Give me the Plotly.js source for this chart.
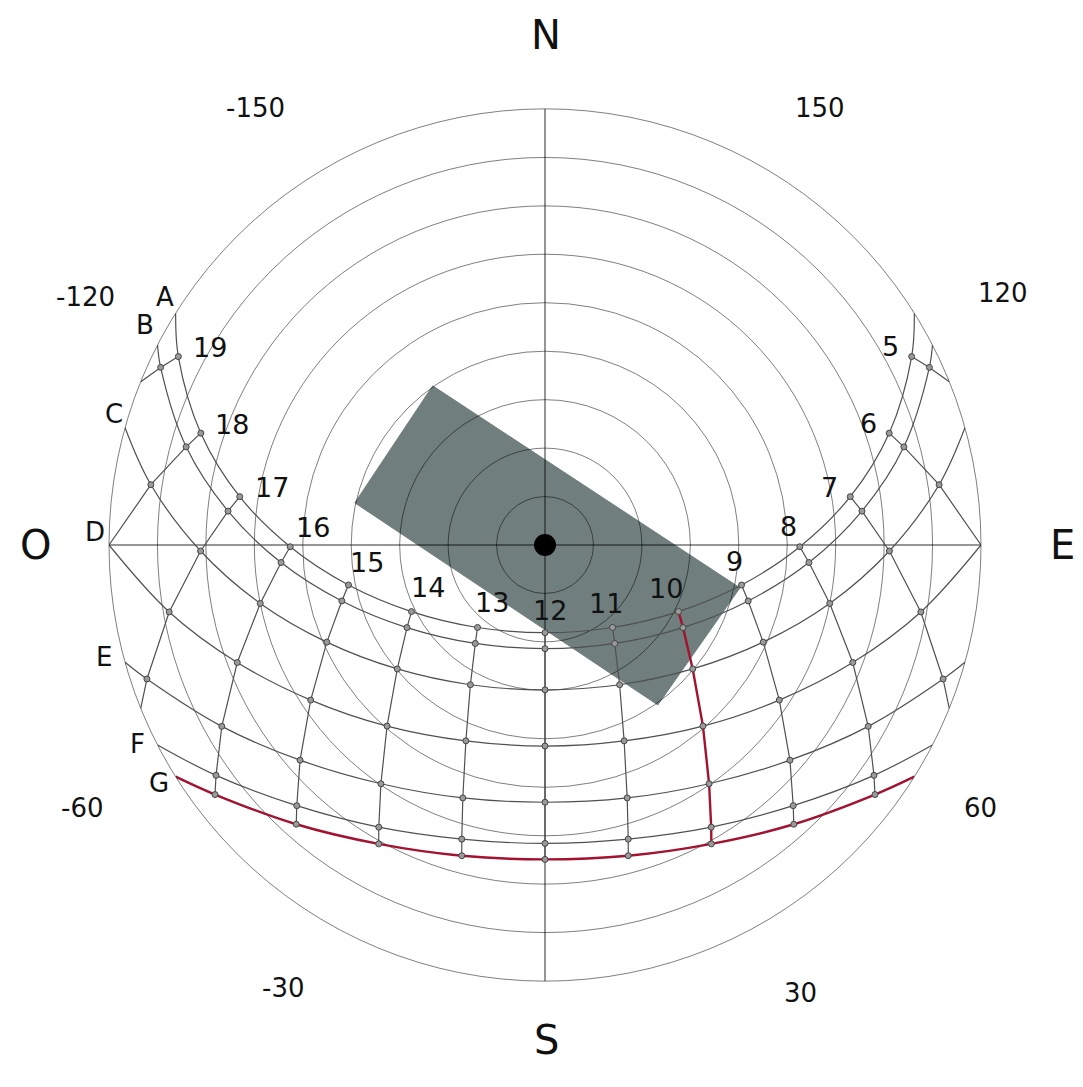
<!DOCTYPE html>
<html>
<head>
<meta charset="utf-8">
<script src="https://cdn.plot.ly/plotly-3.0.1.min.js"></script>
<style>
html,body{margin:0;padding:0;background:#ffffff;}
#chart{width:1083px;height:1087px;}
</style>
</head>
<body>
<div id="chart"></div>
<script>
// ---------------- DATA ----------------
// True solar hours
const hours = [5,6,7,8,9,10,11,12,13,14,15,16,17,18,19];
// Sun-path curves A..G : azimuth measured from South (East +, West -), elevation in degrees
const azA = [117.2,108.0,99.0,89.6,78.5,63.5,39.3,0,-39.3,-63.5,-78.5,-89.6,-99.0,-108.0,-117.2];
const elA = [4.9,15.3,26.2,37.4,48.6,59.2,68.0,71.9,68.0,59.2,48.6,37.4,26.2,15.3,4.9];
const azB = [114.8,105.3,96.1,86.2,74.6,59.1,35.3,0,-35.3,-59.1,-74.6,-86.2,-96.1,-105.3,-114.8];
const elB = [2.6,13.2,24.2,35.4,46.5,56.8,65.1,68.6,65.1,56.8,46.5,35.4,24.2,13.2,2.6];
const azC = [null,98.7,89.0,78.4,66.0,50.0,28.1,0,-28.1,-50.0,-66.0,-78.4,-89.0,-98.7,null];
const elC = [null,7.7,18.9,30.0,40.7,50.2,57.3,60.1,57.3,50.2,40.7,30.0,18.9,7.7,null];
const azD = [null,90,79.9,69.1,56.5,41.1,22.0,0,-22.0,-41.1,-56.5,-69.1,-79.9,-90,null];
const elD = [null,0,11.2,22.0,32.0,40.4,46.4,48.5,46.4,40.4,32.0,22.0,11.2,0,null];
const azE = [null,null,71.4,60.7,48.7,34.5,18.0,0,-18.0,-34.5,-48.7,-60.7,-71.4,null,null];
const elE = [null,null,3.3,13.5,22.7,30.2,35.1,36.9,35.1,30.2,22.7,13.5,3.3,null,null];
const azF = [null,null,null,55.0,43.6,30.5,15.8,0,-15.8,-30.5,-43.6,-55.0,null,null,null];
const elF = [null,null,null,7.1,15.7,22.4,26.9,28.4,26.9,22.4,15.7,7.1,null,null,null];
const azG = [null,null,null,52.9,41.7,29.1,15.0,0,-15.0,-29.1,-41.7,-52.9,null,null,null];
const elG = [null,null,null,4.6,12.8,19.4,23.6,25.1,23.6,19.4,12.8,4.6,null,null,null];
const curveNames = ['A','B','C','D','E','F','G'];
// azimuth where each curve meets the horizon (sunrise; sunset is the negative)
const horizonAz = [122.1,117.3,105.6,90,74.4,62.7,57.9];
// azimuth where an hour line meets the horizon
const hourHorizonHours = [5,7,17,19];
const hourHorizonAz = [112.0,68.0,-68.0,-112.0];
// Shading obstacle (corners)
const obstacleAz = [-144.8,-102.5,35.2,77.6];
const obstacleEl = [49.8,49.8,49.6,48.8];
// highlighted series
const highlightCurve = 'G';
const highlightHour = 10;
// labels
const cardinalLabels = ['N','E','S','O'];
const azimuthLabels = ['150','120','60','30','-30','-60','-120','-150'];

// ---------------- LAYOUT CONSTANTS ----------------
const W = 1083, H = 1087;
const FONT = 'DejaVu Sans, Verdana, sans-serif';
const GRAY = '#505050';
const RED = '#a3122f';
const cardinalPos = [[546,35],[1062,545],[546,1040],[35,545]];
const azimuthPos = [[820,108],[1003,293],[980,808],[800,993],[283,988],[82,808],[85,297],[255,108]];
const hourPos = [[890,346],[868,423],[829,487],[788,526],[734,561],[666,588],[606,603],[550,610],[492,602],[428,587],[367,562],[313,527],[272,487],[232,424],[210,347]];
const curveLabelPos = [[165,297],[145,325],[114,414],[95,532],[104,657],[137,744],[159,783]];

const curves = [
  {az:azA, el:elA},{az:azB, el:elB},{az:azC, el:elC},{az:azD, el:elD},
  {az:azE, el:elE},{az:azF, el:elF},{az:azG, el:elG}
];
const zen = el => 90 - el;

const traces = [];
// obstacle on bottom subplot
traces.push({
  type:'scatterpolar', subplot:'polar',
  theta: obstacleAz.concat([obstacleAz[0]]),
  r: obstacleEl.concat([obstacleEl[0]]).map(zen),
  mode:'lines', fill:'toself', fillcolor:'#707f7e',
  line:{color:'#707f7e', width:1}, hoverinfo:'skip', showlegend:false
});

function curveTrace(i, color, width){
  const c = curves[i];
  const th=[horizonAz[i]], rr=[90];
  c.az.forEach((a,k)=>{ if(a!==null && c.el[k]>0){ th.push(a); rr.push(zen(c.el[k])); } });
  th.push(-horizonAz[i]); rr.push(90);
  return {type:'scatterpolar', subplot:'polar2', theta:th, r:rr, mode:'lines',
    line:{color:color, width:width, shape:'spline', smoothing:1}, hoverinfo:'skip', showlegend:false};
}
function hourTrace(k, color, width){
  const th=[], rr=[];
  curves.forEach(c=>{ if(c.az[k]!==null){ th.push(c.az[k]); rr.push(zen(c.el[k])); } });
  const hi = hourHorizonHours.indexOf(hours[k]);
  if(hi>=0){ th.push(hourHorizonAz[hi]); rr.push(90); }
  return {type:'scatterpolar', subplot:'polar2', theta:th, r:rr, mode:'lines',
    line:{color:color, width:width}, hoverinfo:'skip', showlegend:false};
}
const hiC = curveNames.indexOf(highlightCurve);
const hiH = hours.indexOf(highlightHour);
curves.forEach((c,i)=>{ if(i!==hiC) traces.push(curveTrace(i, GRAY, 1.2)); });
hours.forEach((h,k)=>{ if(k!==hiH) traces.push(hourTrace(k, GRAY, 1.2)); });
traces.push(curveTrace(hiC, RED, 2.4));
traces.push(hourTrace(hiH, RED, 2.4));

// hour points
const dotTh=[], dotR=[];
curves.forEach(c=>{ c.az.forEach((a,k)=>{ if(a!==null && c.el[k]>0){ dotTh.push(a); dotR.push(zen(c.el[k])); } }); });
traces.push({type:'scatterpolar', subplot:'polar2', theta:dotTh, r:dotR, mode:'markers',
  marker:{size:6, color:'#9a9a9a', line:{color:'#444', width:1}}, hoverinfo:'skip', showlegend:false});
// zenith
traces.push({type:'scatterpolar', subplot:'polar2', theta:[0], r:[zen(90)], mode:'markers',
  marker:{size:22, color:'#000'}, hoverinfo:'skip', showlegend:false});

// ---------------- LABELS ----------------
function ann(text, p, size){
  return {text:text, x:p[0]/W, y:1-p[1]/H, xref:'paper', yref:'paper', showarrow:false,
    xanchor:'center', yanchor:'middle', font:{family:FONT, size:size, color:'#111'}};
}
const annotations = [];
cardinalLabels.forEach((t,i)=>annotations.push(ann(t, cardinalPos[i], 40)));
azimuthLabels.forEach((t,i)=>annotations.push(ann(t, azimuthPos[i], 26)));
hours.forEach((h,i)=>annotations.push(ann(String(h), hourPos[i], 27)));
curveNames.forEach((t,i)=>annotations.push(ann(t, curveLabelPos[i], 26)));

const dom = {x:[109/W, 981/W], y:[(H-545-436)/H, (H-545+436)/H]};
const layout = {
  width:W, height:H, margin:{l:0,r:0,t:0,b:0}, paper_bgcolor:'#ffffff', showlegend:false,
  polar:{domain:dom, bgcolor:'rgba(0,0,0,0)',
    radialaxis:{range:[0,90], visible:false},
    angularaxis:{rotation:270, direction:'counterclockwise', visible:false}},
  polar2:{domain:dom, bgcolor:'rgba(0,0,0,0)',
    radialaxis:{range:[0,90], tickvals:[10,20,30,40,50,60,70,80], showgrid:true,
      gridcolor:'rgba(0,0,0,0.5)', gridwidth:1, showline:false, showticklabels:false, ticks:''},
    angularaxis:{rotation:270, direction:'counterclockwise', tickvals:[0,90,180,270], showgrid:true,
      gridcolor:'rgba(0,0,0,0.55)', gridwidth:1.5, showline:true, linecolor:'rgba(0,0,0,0.5)', linewidth:1,
      showticklabels:false, ticks:''}},
  annotations:annotations
};
Plotly.newPlot('chart', traces, layout, {staticPlot:true, displayModeBar:false});
</script>
</body>
</html>
